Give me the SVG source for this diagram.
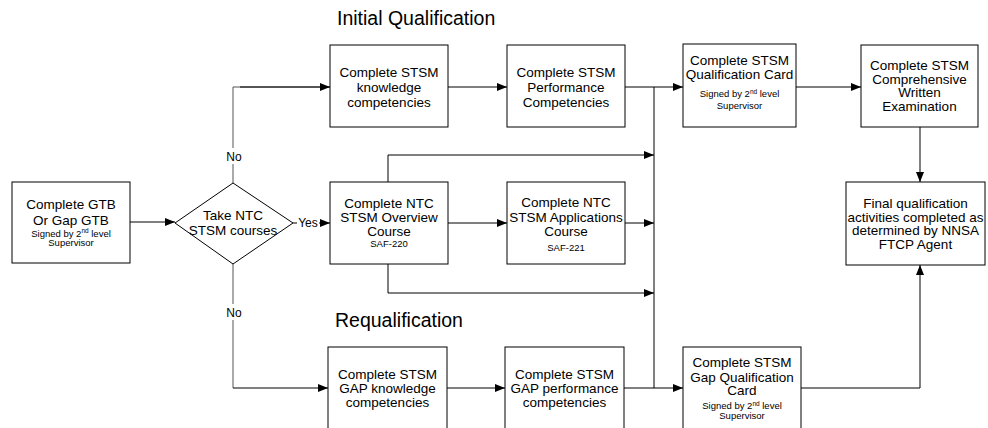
<svg xmlns="http://www.w3.org/2000/svg" width="988" height="428" viewBox="0 0 988 428">
<defs>
<marker id="ah" viewBox="0 0 10 8" refX="10" refY="4" markerWidth="10" markerHeight="8" markerUnits="userSpaceOnUse" orient="auto">
<path d="M0,0 L10,4 L0,8 Z" fill="#000"/>
</marker>
<style>
.box{fill:#fff;stroke:#000;stroke-width:1}
.t{font-family:"Liberation Sans",Arial,sans-serif;font-size:13.5px;fill:#000;text-anchor:middle}
.s{font-family:"Liberation Sans",Arial,sans-serif;font-size:9.5px;fill:#000;text-anchor:middle}
.sup{font-size:6.5px}
.title{font-family:"Liberation Sans",Arial,sans-serif;font-size:19.5px;fill:#000}
.lbl{font-family:"Liberation Sans",Arial,sans-serif;font-size:12px;fill:#000;text-anchor:middle}
.c{fill:none;stroke:#000;stroke-width:1}
.a{marker-end:url(#ah)}
</style>
</defs>
<rect width="988" height="428" fill="#fff"/>
<text class="title" x="337" y="25">Initial Qualification</text>
<text class="title" x="335" y="327">Requalification</text>
<g id="connectors">
<path class="c a" d="M130,222 H175"/>
<path class="c" d="M233,183 V87 H330" style="stroke:#555"/>
<path class="c a" d="M240,87 H330"/>
<path class="c" d="M233,264 V388" style="stroke:#555"/>
<path class="c a" d="M233,388 H328"/>
<path class="c" d="M293,223 H297"/>
<path class="c a" d="M319,223 H330"/>
<path class="c a" d="M448,87 H507"/>
<path class="c a" d="M625,87 H683"/>
<path class="c a" d="M796,87 H861"/>
<path class="c a" d="M920,127 V182"/>
<path class="c" d="M654,87 V388"/>
<path class="c a" d="M388,182 V155 H654"/>
<path class="c a" d="M448,223 H507"/>
<path class="c a" d="M625,223 H654"/>
<path class="c a" d="M388,264 V293 H654"/>
<path class="c a" d="M447,388 H505"/>
<path class="c a" d="M624,388 H683"/>
<path class="c a" d="M801,388 H920 V265"/>
<rect x="222" y="148" width="23" height="16" fill="#fff"/>
<text class="lbl" x="234" y="161">No</text>
<rect x="222" y="304" width="23" height="16" fill="#fff"/>
<text class="lbl" x="234" y="317">No</text>
<text class="lbl" x="308" y="227">Yes</text>
</g>
<g id="gtb">
<rect class="box" x="12" y="182" width="118" height="81"/>
<text class="t" x="71" y="209">Complete GTB</text>
<text class="t" x="71" y="225">Or Gap GTB</text>
<text class="s" x="71" y="236.5">Signed by 2<tspan class="sup" dy="-3.5">nd</tspan><tspan dy="3.5"> level</tspan></text>
<text class="s" x="71" y="246">Supervisor</text>
</g>
<g id="decision">
<polygon class="box" points="233,183 293,223 233,264 175,223"/>
<text class="t" x="233" y="220">Take NTC</text>
<text class="t" x="233" y="235">STSM courses</text>
</g>
<g id="knowledge">
<rect class="box" x="330" y="45" width="118" height="82"/>
<text class="t" x="389" y="76.5">Complete STSM</text>
<text class="t" x="389" y="91.5">knowledge</text>
<text class="t" x="389" y="106.5">competencies</text>
</g>
<g id="performance">
<rect class="box" x="507" y="45" width="118" height="82"/>
<text class="t" x="566" y="76.5">Complete STSM</text>
<text class="t" x="566" y="91.5">Performance</text>
<text class="t" x="566" y="106.5">Competencies</text>
</g>
<g id="qualcard">
<rect class="box" x="683" y="44" width="113" height="83"/>
<text class="t" x="739.5" y="65">Complete STSM</text>
<text class="t" x="739.5" y="79">Qualification Card</text>
<text class="s" x="739.5" y="97">Signed by 2<tspan class="sup" dy="-3.5">nd</tspan><tspan dy="3.5"> level</tspan></text>
<text class="s" x="739.5" y="109">Supervisor</text>
</g>
<g id="exam">
<rect class="box" x="861" y="45" width="117" height="82"/>
<text class="t" x="919.5" y="70">Complete STSM</text>
<text class="t" x="919.5" y="83.5">Comprehensive</text>
<text class="t" x="919.5" y="97">Written</text>
<text class="t" x="919.5" y="110.5">Examination</text>
</g>
<g id="overview">
<rect class="box" x="330" y="182" width="118" height="82"/>
<text class="t" x="389" y="207.5">Complete NTC</text>
<text class="t" x="389" y="222">STSM Overview</text>
<text class="t" x="389" y="236">Course</text>
<text class="s" x="389" y="247">SAF-220</text>
</g>
<g id="applications">
<rect class="box" x="507" y="182" width="118" height="82"/>
<text class="t" x="566" y="206.5">Complete NTC</text>
<text class="t" x="566" y="221.5">STSM Applications</text>
<text class="t" x="566" y="235.5">Course</text>
<text class="s" x="566" y="251">SAF-221</text>
</g>
<g id="final">
<rect class="box" x="846" y="182" width="139" height="83"/>
<text class="t" x="915.5" y="208">Final qualification</text>
<text class="t" x="915.5" y="221.5">activities completed as</text>
<text class="t" x="915.5" y="235">determined by NNSA</text>
<text class="t" x="915.5" y="248.5">FTCP Agent</text>
</g>
<g id="gapknowledge">
<rect class="box" x="328" y="347" width="119" height="95"/>
<text class="t" x="387.5" y="379">Complete STSM</text>
<text class="t" x="387.5" y="393">GAP knowledge</text>
<text class="t" x="387.5" y="407">competencies</text>
</g>
<g id="gapperformance">
<rect class="box" x="505" y="347" width="119" height="95"/>
<text class="t" x="564.5" y="379">Complete STSM</text>
<text class="t" x="564.5" y="393">GAP performance</text>
<text class="t" x="564.5" y="407">competencies</text>
</g>
<g id="gapcard">
<rect class="box" x="683" y="347" width="118" height="95"/>
<text class="t" x="742" y="367">Complete STSM</text>
<text class="t" x="742" y="381.5">Gap Qualification</text>
<text class="t" x="742" y="395">Card</text>
<text class="s" x="742" y="408.5">Signed by 2<tspan class="sup" dy="-3">nd</tspan><tspan dy="3"> level</tspan></text>
<text class="s" x="742" y="419">Supervisor</text>
</g>
</svg>
